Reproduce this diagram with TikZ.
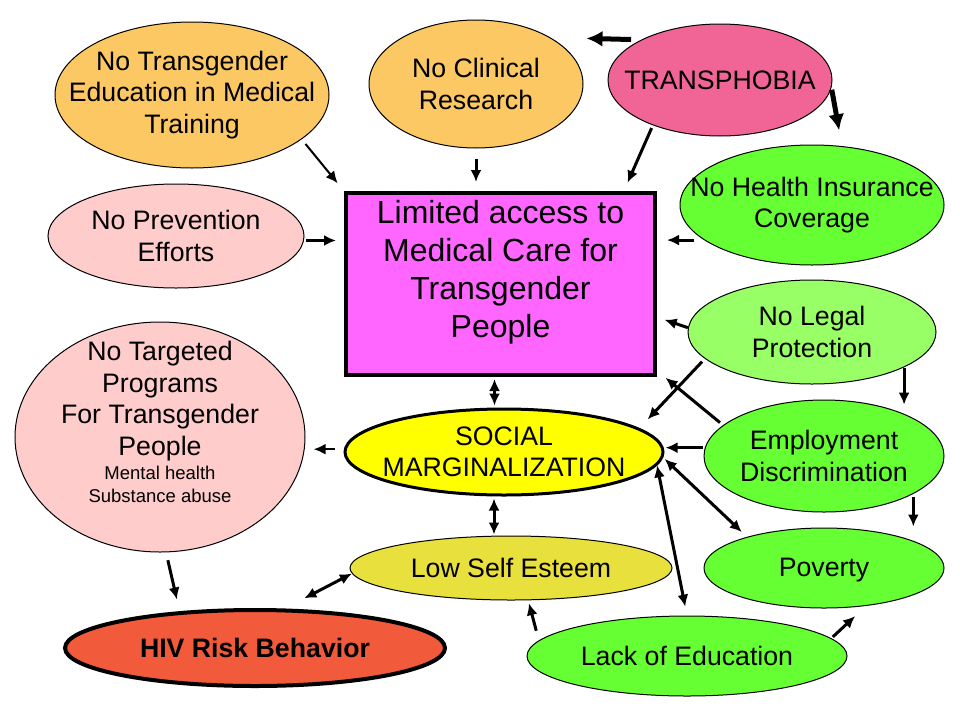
\documentclass[tikz,border=0pt]{standalone}
\usepackage{fontspec}
\setmainfont{Liberation Sans}
\usetikzlibrary{shapes.geometric,arrows.meta}

\definecolor{orangebub}{RGB}{252,200,100}
\definecolor{phobiapink}{RGB}{240,100,150}
\definecolor{palepink}{RGB}{255,204,204}
\definecolor{boxpink}{RGB}{255,102,255}
\definecolor{brightgreen}{RGB}{102,255,51}
\definecolor{palegreen}{RGB}{153,255,102}
\definecolor{socyellow}{RGB}{255,255,0}
\definecolor{oliveyellow}{RGB}{232,224,60}
\definecolor{hivred}{RGB}{242,90,60}

\begin{document}
\begin{tikzpicture}[x=1pt,y=-1pt,>={Latex[length=12pt,width=11pt]},
	bub/.style={ellipse,draw,line width=1pt,inner sep=0pt},
	lab/.style={font=\fontsize{26.7}{31.5}\selectfont,align=center,inner sep=0pt},
	link/.style={->,line width=3pt},
	dlink/.style={<->,line width=3pt},
	heavy/.style={->,line width=5pt,>={Latex[length=16pt,width=16pt]}}]
		\useasboundingbox (0,0) rectangle (960,720);

		\node[bub,fill=orangebub,minimum width=274,minimum height=146,
			label={[lab]center:{No Transgender\\Education in Medical\\Training}}] (ted) at (192,95) {};
		\node[bub,fill=orangebub,minimum width=214,minimum height=128,
			label={[lab]center:{No Clinical\\Research}}] (clin) at (476,84) {};
		\node[bub,fill=phobiapink,minimum width=224,minimum height=112,
			label={[lab]center:{TRANSPHOBIA}}] (trans) at (720,80) {};
		\node[bub,fill=palepink,minimum width=256,minimum height=104,
			label={[lab]center:{No Prevention\\Efforts}}] (prev) at (176,236) {};
		\node[draw,line width=4pt,fill=boxpink,minimum width=309,minimum height=182,inner sep=0pt,
			label={[lab,font=\fontsize{32}{38}\selectfont,yshift=12pt]center:{Limited access to\\Medical Care for\\Transgender\\People}}] (box) at (500.5,284) {};
		\node[bub,fill=brightgreen,minimum width=264,minimum height=120,
			label={[lab]center:{No Health Insurance\\Coverage}}] (ins) at (812,205) {};
		\node[bub,fill=palegreen,minimum width=248,minimum height=104,
			label={[lab]center:{No Legal\\Protection}}] (legal) at (812,332) {};
		\node[bub,fill=palepink,minimum width=290,minimum height=230,
			label={[lab,yshift=15pt]center:{No Targeted\\Programs\\For Transgender\\People\\[-7pt]{\fontsize{18.5}{22}\selectfont Mental health}\\[-9pt]{\fontsize{18.5}{22}\selectfont Substance abuse}}}] (targ) at (160,437) {};
		\node[bub,line width=3pt,fill=socyellow,minimum width=318,minimum height=86,
			label={[lab]center:{SOCIAL\\MARGINALIZATION}}] (soc) at (504,452) {};
		\node[bub,fill=brightgreen,minimum width=240,minimum height=112,
			label={[lab]center:{Employment\\Discrimination}}] (emp) at (824,456) {};
		\node[bub,fill=oliveyellow,minimum width=322,minimum height=64,
			label={[lab]center:{Low Self Esteem}}] (low) at (511,568) {};
		\node[bub,fill=brightgreen,minimum width=240,minimum height=80,
			label={[lab,yshift=-2pt]center:{Poverty}}] (pov) at (824,568) {};
		\node[bub,line width=4pt,fill=hivred,minimum width=380,minimum height=76,
			label={[lab,font=\fontsize{26.7}{31.5}\selectfont\bfseries]center:{HIV Risk Behavior}}] (hiv) at (255,648) {};
		\node[bub,fill=brightgreen,minimum width=320,minimum height=80,
			label={[lab]center:{Lack of Education}}] (edu) at (687,656) {};

		\draw[heavy,shorten <=10pt,shorten >=36pt] (trans.153) -- (clin.32);
		\draw[heavy,shorten <=2pt,shorten >=16pt] (trans.-4) -- (ins.63);

		\draw[link,line width=2pt,shorten <=6pt,shorten >=10pt] (ted.-22) -- (box.north west);
		\draw[link,shorten <=10pt,shorten >=9pt] (clin.south) -- (clin.south |- box.north);
		\draw[link,shorten <=3pt,shorten >=9pt] (trans.214) -- (box.37);
		\draw[link,shorten <=2pt,shorten >=8pt] (prev.-2) -- (prev.-2 -| box.west);
		\draw[link,shorten <=10pt,shorten >=10pt] (ins.198) -- (ins.198 -| box.east);
		\draw[link,shorten >=8pt] (legal.178) -- (box.-12);
		\draw[link,shorten <=4pt,shorten >=11pt] (emp.163) -- (box.-29);

		\draw[dlink,shorten <=2pt,shorten >=2pt] ([xshift=-6pt]box.south) -- ([xshift=-6pt]box.south |- soc.north);
		\draw[dlink,shorten <=2pt,shorten >=1pt] ([xshift=-10pt]soc.south) -- ([xshift=-10pt]soc.south |- low.north);
		\draw[link,line width=2.5pt,shorten <=9pt,shorten >=8pt] (soc.179) -- (soc.179 -| targ.east);
		\draw[link,shorten <=4pt,shorten >=12pt] (legal.194) -- (soc.10);
		\draw[link,shorten <=2pt,shorten >=1pt] (emp.176) -- (emp.176 -| soc.east);
		\draw[dlink,shorten <=2pt,shorten >=7pt] (soc.-2) -- (pov.158);
		\draw[dlink,shorten >=9pt] (soc.-5) -- (edu.north);

		\draw[link,shorten <=1pt,shorten >=9pt] (legal.-21) -- (legal.-21 |- emp.28);
		\draw[link,shorten <=3pt,shorten >=1pt] (emp.-23) -- (emp.-23 |- pov.north);
		\draw[link,shorten <=2pt,shorten >=15pt] (edu.7) -- (pov.-42);
		\draw[link,shorten <=10pt,shorten >=3pt] (edu.174) -- (low.-62);

		\draw[link,shorten <=8pt,shorten >=12pt] (targ.-87) -- (hiv.154);
		\draw[dlink,shorten <=22pt] (hiv.53) -- (low.182);
	\end{tikzpicture}
\end{document}
